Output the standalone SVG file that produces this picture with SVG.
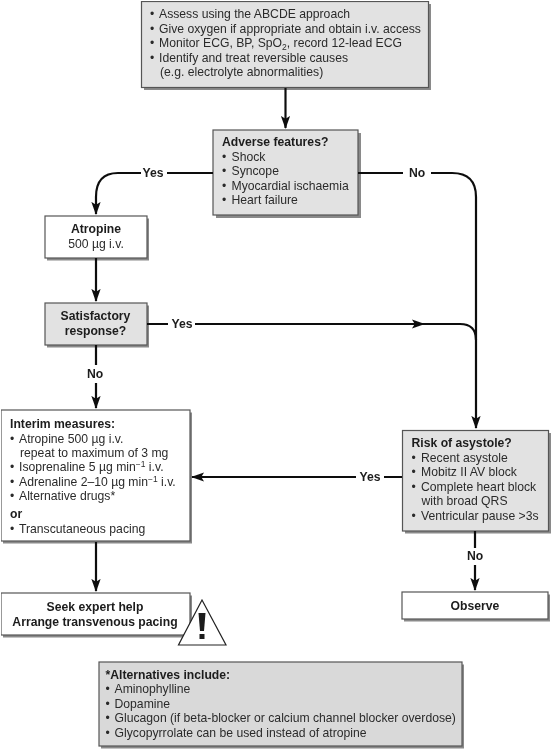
<svg xmlns="http://www.w3.org/2000/svg" width="552" height="750" viewBox="0 0 552 750">
<defs>
<marker id="ah" markerUnits="userSpaceOnUse" markerWidth="13" markerHeight="9.500" refX="13" refY="5" viewBox="0 0 14 10" orient="auto"><path d="M0 0L14 5L0 10L3 5Z" fill="#111"/></marker>
<filter id="soft" x="0" y="0" width="100%" height="100%"><feGaussianBlur stdDeviation="0.35"/></filter>
</defs>
<style>
text{font-family:"Liberation Sans",Arial,sans-serif;font-size:12.2px;fill:#2b2b2b}
.b{font-weight:bold;fill:#1c1c1c}
.m{text-anchor:middle}
.g{fill:#e2e2e2;stroke:#555;stroke-width:1.2}
.w{fill:#fff;stroke:#555;stroke-width:1.2}
.s{fill:#8a8a8a}
.c{fill:none;stroke:#111;stroke-width:2.2}
</style>
<rect width="552" height="750" fill="#fff"/>
<g filter="url(#soft)">
<g id="assess">
<rect class="s" x="144" y="4" width="287" height="86"/><rect class="g" x="141.500" y="1.500" width="287" height="86"/>
<text x="150" y="18">•</text><text x="159" y="18">Assess using the ABCDE approach</text>
<text x="150" y="32.500">•</text><text x="159" y="32.500">Give oxygen if appropriate and obtain i.v. access</text>
<text x="150" y="47">•</text><text x="159" y="47">Monitor ECG, BP, SpO<tspan font-size="8.500" dy="2.500">2</tspan><tspan dy="-2.500">, record 12-lead ECG</tspan></text>
<text x="150" y="61.500">•</text><text x="159" y="61.500">Identify and treat reversible causes</text>
<text x="160" y="76">(e.g. electrolyte abnormalities)</text>
</g>
<g id="adverse">
<rect class="s" x="216" y="133" width="145" height="85"/><rect class="g" x="213" y="130" width="145" height="85"/>
<text class="b" x="222" y="146">Adverse features?</text>
<text x="222" y="160.500">•</text><text x="231.500" y="160.500">Shock</text>
<text x="222" y="175">•</text><text x="231.500" y="175">Syncope</text>
<text x="222" y="189.500">•</text><text x="231.500" y="189.500">Myocardial ischaemia</text>
<text x="222" y="204">•</text><text x="231.500" y="204">Heart failure</text>
</g>
<g id="atropine">
<rect class="s" x="47" y="218.500" width="102" height="42"/><rect class="w" x="45" y="216" width="102" height="42"/>
<text class="b m" x="96" y="233">Atropine</text>
<text class="m" x="96" y="247.500">500 µg i.v.</text>
</g>
<g id="satisfactory">
<rect class="s" x="47" y="305.500" width="102" height="42"/><rect class="g" x="45" y="303" width="102" height="42"/>
<text class="b m" x="95.500" y="320">Satisfactory</text>
<text class="b m" x="95.500" y="334.500">response?</text>
</g>
<g id="interim">
<rect class="s" x="3" y="412.500" width="189" height="131"/><rect class="w" x="1" y="410" width="189" height="131"/>
<text class="b" x="10" y="427.500">Interim measures:</text>
<text x="10" y="442.500">•</text><text x="19" y="442.500">Atropine 500 µg i.v.</text>
<text x="20" y="457">repeat to maximum of 3 mg</text>
<text x="10" y="471">•</text><text x="19" y="471">Isoprenaline 5 µg min<tspan font-size="8.500" dy="-4">−1</tspan><tspan dy="4"> i.v.</tspan></text>
<text x="10" y="486">•</text><text x="19" y="486">Adrenaline 2–10 µg min<tspan font-size="8.500" dy="-4">−1</tspan><tspan dy="4"> i.v.</tspan></text>
<text x="10" y="500">•</text><text x="19" y="500">Alternative drugs*</text>
<text class="b" x="10" y="518">or</text>
<text x="10" y="533">•</text><text x="19" y="533">Transcutaneous pacing</text>
</g>
<g id="seek">
<rect class="s" x="3" y="595.500" width="189" height="42"/><rect class="w" x="1" y="593" width="189" height="42"/>
<text class="b m" x="95" y="611">Seek expert help</text>
<text class="b m" x="95" y="625.500">Arrange transvenous pacing</text>
</g>
<g id="warning">
<path d="M202 600L178.500 645H226Z" fill="#fff" stroke="#222" stroke-width="1.200"/>
<path d="M198.500 613H205.500L204 631H200Z" fill="#1c1c1c"/><rect x="199.500" y="634" width="5" height="5" fill="#1c1c1c"/>
</g>
<g id="risk">
<rect class="s" x="405" y="433" width="146" height="100.500"/><rect class="g" x="402.500" y="430.500" width="146" height="100.500"/>
<text class="b" x="411.500" y="447">Risk of asystole?</text>
<text x="411.500" y="461.500">•</text><text x="421" y="461.500">Recent asystole</text>
<text x="411.500" y="476">•</text><text x="421" y="476">Mobitz II AV block</text>
<text x="411.500" y="490.500">•</text><text x="421" y="490.500">Complete heart block</text>
<text x="421.500" y="505">with broad QRS</text>
<text x="411.500" y="519.500">•</text><text x="421" y="519.500">Ventricular pause &gt;3s</text>
</g>
<g id="observe">
<rect class="s" x="404" y="594.500" width="146" height="27"/><rect class="w" x="402" y="592" width="146" height="27"/>
<text class="b m" x="475" y="609.500">Observe</text>
</g>
<g id="alternatives">
<rect class="s" x="101" y="664.500" width="363" height="84"/><rect class="g" x="99" y="662" width="363" height="84" style="fill:#d9d9d9"/>
<text class="b" x="105.500" y="678.500">*Alternatives include:</text>
<text x="105.500" y="693">•</text><text x="114.500" y="693">Aminophylline</text>
<text x="105.500" y="707.500">•</text><text x="114.500" y="707.500">Dopamine</text>
<text x="105.500" y="722">•</text><text x="114.500" y="722">Glucagon (if beta-blocker or calcium channel blocker overdose)</text>
<text x="105.500" y="736.500">•</text><text x="114.500" y="736.500">Glycopyrrolate can be used instead of atropine</text>
</g>
<g id="connectors">
<path class="c" d="M285.500 88V128" marker-end="url(#ah)"/>
<path class="c" d="M213 173H167M141 173H118Q96 173 96 197V214" marker-end="url(#ah)"/>
<path class="c" d="M358 173H403M431 173H452Q476 173 476 197V428" marker-end="url(#ah)"/>
<path class="c" d="M96 258V301" marker-end="url(#ah)"/>
<path class="c" d="M147 324H168M195 324H424" marker-end="url(#ah)"/>
<path class="c" d="M422 324H460Q476 324 476 340"/>
<path class="c" d="M96 345V365M96 383V408" marker-end="url(#ah)"/>
<path class="c" d="M402 477H384M356 477H192" marker-end="url(#ah)"/>
<path class="c" d="M96 542V591" marker-end="url(#ah)"/>
<path class="c" d="M475 531V548M475 565V590" marker-end="url(#ah)"/>
<text class="b m" x="153" y="177">Yes</text>
<text class="b m" x="417" y="177">No</text>
<text class="b m" x="182" y="328">Yes</text>
<text class="b m" x="95" y="378">No</text>
<text class="b m" x="370" y="481">Yes</text>
<text class="b m" x="475" y="560">No</text>
</g>
</g>
</svg>
